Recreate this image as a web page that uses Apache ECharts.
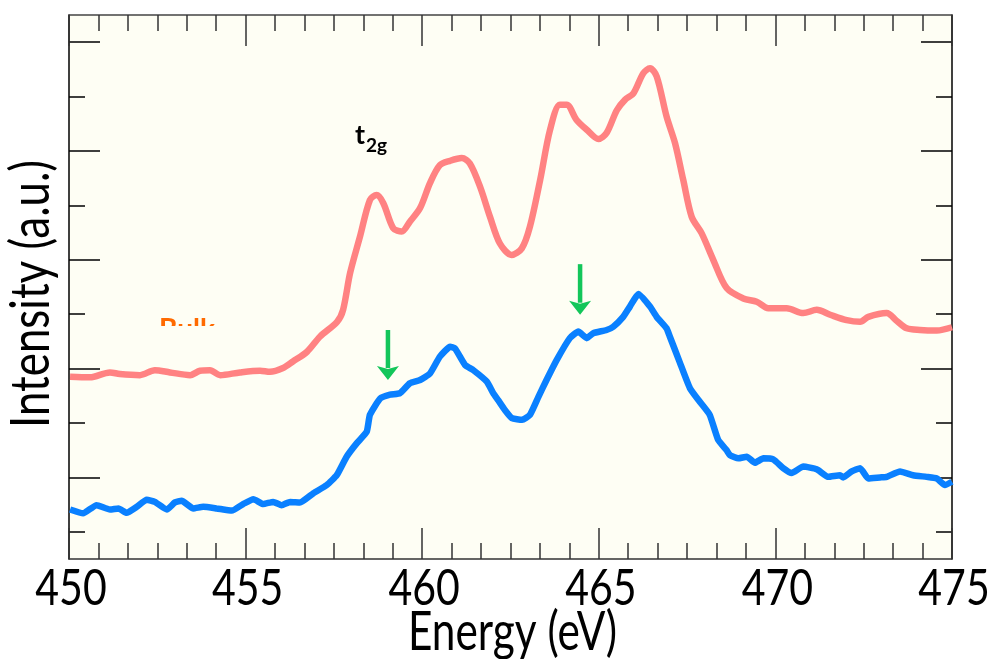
<!DOCTYPE html>
<html>
<head>
<meta charset="utf-8">
<script src="https://cdn.jsdelivr.net/npm/echarts@6/dist/echarts.min.js"></script>
<style>
  html, body { margin: 0; padding: 0; background: #ffffff; }
  #chart { width: 992px; height: 659px; }
</style>
</head>
<body>
<div id="chart"></div>
<script>
// Energy axis (eV) and tick labels
const energyMin = 450;
const energyMax = 475;
const energyTicks = [450, 455, 460, 465, 470, 475];

// Upper spectrum (salmon)
const upperEnergy = [450.03, 450.59, 451.16, 451.44, 452.01, 452.43, 452.86, 453.43, 453.71, 453.99,
  454.28, 454.84, 455.41, 455.69, 456.06, 456.34, 456.74, 457.11, 457.59, 457.76,
  457.96, 458.24, 458.52, 458.71, 458.90, 459.18, 459.42, 459.65, 459.94, 460.22,
  460.50, 460.79, 461.12, 461.35, 461.64, 461.92, 462.20, 462.53, 462.82, 463.05,
  463.34, 463.62, 463.90, 464.09, 464.37, 464.66, 464.99, 465.22, 465.51, 465.74,
  465.98, 466.26, 466.45, 466.64, 466.92, 467.16, 467.39, 467.63, 467.91, 468.24,
  468.62, 469.09, 469.47, 469.80, 470.32, 470.79, 471.17, 471.55, 472.02, 472.40,
  472.63, 473.15, 473.43, 473.72, 474.09, 474.57, 475.00];
const upperIntensity = [3.35, 3.34, 3.43, 3.40, 3.38, 3.47, 3.43, 3.38, 3.46, 3.47,
  3.38, 3.43, 3.46, 3.44, 3.51, 3.63, 3.81, 4.09, 4.36, 4.58,
  5.26, 5.93, 6.60, 6.69, 6.54, 6.08, 6.02, 6.20, 6.45, 6.91,
  7.24, 7.32, 7.37, 7.27, 6.84, 6.29, 5.80, 5.59, 5.71, 6.11,
  6.97, 7.89, 8.35, 8.35, 8.07, 7.89, 7.72, 7.83, 8.25, 8.44,
  8.56, 8.93, 9.02, 8.87, 8.13, 7.64, 6.97, 6.29, 5.99, 5.50,
  4.98, 4.79, 4.73, 4.61, 4.61, 4.52, 4.58, 4.49, 4.39, 4.36,
  4.45, 4.52, 4.38, 4.24, 4.21, 4.20, 4.26];

// Lower spectrum (blue)
const lowerEnergy = [450.03, 450.40, 450.78, 451.16, 451.40, 451.63, 451.92, 452.20, 452.43, 452.77,
  453.00, 453.19, 453.52, 453.80, 454.18, 454.61, 454.93, 455.22, 455.50, 455.78,
  456.02, 456.26, 456.54, 456.92, 457.30, 457.58, 457.86, 458.15, 458.43, 458.52,
  458.81, 459.09, 459.37, 459.65, 459.94, 460.22, 460.50, 460.79, 460.93, 461.21,
  461.45, 461.83, 462.01, 462.15, 462.34, 462.54, 462.83, 463.05, 463.29, 463.52,
  463.81, 464.18, 464.42, 464.66, 464.84, 465.22, 465.41, 465.69, 465.88, 466.12,
  466.45, 466.64, 466.92, 467.01, 467.29, 467.58, 467.86, 468.14, 468.38, 468.62,
  468.71, 468.95, 469.19, 469.42, 469.66, 469.94, 470.22, 470.46, 470.79, 471.17,
  471.50, 471.83, 471.92, 472.16, 472.40, 472.63, 472.96, 473.15, 473.53, 473.90,
  474.28, 474.57, 474.80, 475.00];
const lowerIntensity = [0.91, 0.84, 0.99, 0.91, 0.93, 0.85, 0.96, 1.09, 1.05, 0.91,
  1.04, 1.07, 0.93, 0.96, 0.93, 0.89, 1.01, 1.10, 1.01, 1.05,
  0.99, 1.05, 1.04, 1.21, 1.36, 1.54, 1.88, 2.13, 2.34, 2.65,
  2.95, 3.02, 3.05, 3.23, 3.29, 3.41, 3.72, 3.90, 3.87, 3.57,
  3.47, 3.26, 3.05, 2.92, 2.74, 2.59, 2.56, 2.65, 2.98, 3.29,
  3.66, 4.06, 4.18, 4.06, 4.15, 4.21, 4.27, 4.45, 4.64, 4.87,
  4.64, 4.45, 4.24, 4.09, 3.62, 3.14, 2.89, 2.65, 2.19, 2.00,
  1.91, 1.85, 1.88, 1.77, 1.85, 1.83, 1.67, 1.58, 1.70, 1.65,
  1.51, 1.54, 1.50, 1.61, 1.67, 1.48, 1.50, 1.51, 1.61, 1.54,
  1.51, 1.48, 1.36, 1.42];

// Intensity axis: arbitrary units, ticks without labels
const intensityMin = 0;
const intensityMax = 10;
const intensityMajorTicks = [1.5, 3.5, 5.5, 7.5, 9.5];
const intensityMinorTicks = [0.5, 2.5, 4.5, 6.5, 8.5];

// Feature arrows on the lower spectrum: [energy, tail intensity, tip intensity]
const arrowEnergy = [459.03, 464.47];
const arrowTail = [4.21, 5.42];
const arrowTip = [3.29, 4.49];

const FONT = "Lato, 'Liberation Sans', sans-serif";
const bgColor = '#FEFEF4';
const NARROW = 0.82;   // horizontal squeeze applied to the large axis texts

const zip = (xs, ys) => xs.map((x, i) => [x, ys[i]]);

const measureCtx = document.createElement('canvas').getContext('2d');
function textWidth(text, size, weight) {
  measureCtx.font = (weight || 'normal') + ' ' + size + 'px ' + FONT;
  return measureCtx.measureText(text).width;
}

const chart = echarts.init(document.getElementById('chart'), null, { renderer: 'canvas' });

const xCommon = {
  type: 'value',
  min: energyMin,
  max: energyMax,
  interval: 5,
  splitLine: { show: false },
  minorSplitLine: { show: false },
  axisLabel: { show: false },
  axisTick: { show: true, inside: true, length: 31, lineStyle: { color: '#333', width: 1.5 } },
  minorTick: { show: true, splitNumber: 6, length: 16, lineStyle: { color: '#333', width: 1.5 } }
};

const yTickAxis = (position, values, length, lineShow) => ({
  type: 'value',
  position: position,
  min: intensityMin,
  max: intensityMax,
  splitLine: { show: false },
  axisLabel: { show: false },
  axisLine: { show: lineShow, onZero: false, lineStyle: { color: '#000', width: 1.5 } },
  axisTick: { show: true, inside: true, length: length, customValues: values,
    lineStyle: { color: '#000', width: 1.5 } }
});

chart.setOption({
  animation: false,
  backgroundColor: '#ffffff',
  grid: {
    left: 69, right: 40, top: 15, bottom: 100,
    outerBoundsMode: 'none',
    containLabel: false,
    show: true, backgroundColor: bgColor, borderWidth: 0
  },
  xAxis: [
    Object.assign({}, xCommon, {
      position: 'bottom',
      axisLine: { show: true, onZero: false, lineStyle: { color: '#333', width: 1.5 } }
    }),
    Object.assign({}, xCommon, {
      position: 'top',
      axisLine: { show: true, onZero: false, lineStyle: { color: '#444', width: 1.5 } }
    })
  ],
  yAxis: [
    yTickAxis('left', intensityMajorTicks, 31, true),
    yTickAxis('left', intensityMinorTicks, 16, false),
    yTickAxis('right', intensityMajorTicks, 31, true),
    yTickAxis('right', intensityMinorTicks, 16, false)
  ],
  series: [
    {
      name: 'upper',
      type: 'line',
      xAxisIndex: 0, yAxisIndex: 0,
      data: zip(upperEnergy, upperIntensity),
      showSymbol: false,
      smooth: 0.3,
      clip: true,
      lineStyle: { color: '#FF8282', width: 6.5 },
      z: 3
    },
    {
      name: 'lower',
      type: 'line',
      xAxisIndex: 0, yAxisIndex: 0,
      data: zip(lowerEnergy, lowerIntensity),
      showSymbol: false,
      smooth: 0.15,
      clip: true,
      lineStyle: { color: '#0A80FF', width: 6.5 },
      z: 3
    }
  ]
});

// Axis texts, arrows and annotations placed from data coordinates
function buildGraphics() {
  const els = [];
  const toPx = (x, y) => chart.convertToPixel({ xAxisIndex: 0, yAxisIndex: 0 }, [x, y]);
  const plotBottom = toPx(energyMin, intensityMin)[1];
  const plotTop = toPx(energyMin, intensityMax)[1];
  const plotLeft = toPx(energyMin, intensityMin)[0];
  const plotRight = toPx(energyMax, intensityMin)[0];

  // energy tick labels
  energyTicks.forEach((t) => {
    const p = toPx(t, intensityMin);
    els.push({
      type: 'text', z: 60, x: p[0] + 2, y: plotBottom + 30, scaleX: NARROW,
      style: { x: 0, y: 0, text: String(t), fill: '#000', fontSize: 50, fontFamily: FONT,
        align: 'center', verticalAlign: 'middle' }
    });
  });

  // axis titles
  const xTitle = 'Energy (eV)';
  els.push({
    type: 'text', z: 60, x: (plotLeft + plotRight) / 2 + 2, y: plotBottom + 74,
    scaleX: 209 / textWidth(xTitle, 54),
    style: { x: 0, y: 0, text: xTitle, fill: '#000', fontSize: 54, fontFamily: FONT,
      align: 'center', verticalAlign: 'middle' }
  });
  const yTitle = 'Intensity (a.u.)';
  els.push({
    type: 'text', z: 60, x: 32, y: (plotTop + plotBottom) / 2 + 7, rotation: Math.PI / 2,
    scaleX: 268 / textWidth(yTitle, 54),
    style: { x: 0, y: 0, text: yTitle, fill: '#000', fontSize: 54, fontFamily: FONT,
      align: 'center', verticalAlign: 'middle' }
  });

  // green arrows
  const green = '#13C65A';
  arrowEnergy.forEach((e, i) => {
    const tail = toPx(e, arrowTail[i]);
    const tip = toPx(e, arrowTip[i]);
    const headH = 14, headW = 11;
    els.push({
      type: 'line', z: 50,
      shape: { x1: tail[0], y1: tail[1], x2: tip[0], y2: tip[1] - headH + 2 },
      style: { stroke: green, lineWidth: 4.5 }
    });
    els.push({
      type: 'polygon', z: 50,
      shape: { points: [[tip[0], tip[1]], [tip[0] - headW, tip[1] - headH],
        [tip[0], tip[1] - headH + 3], [tip[0] + headW, tip[1] - headH]] },
      style: { fill: green }
    });
  });

  // t2g label
  els.push({
    type: 'text', z: 50,
    style: { x: 355, y: 122, text: 't', fill: '#000', fontSize: 27, fontWeight: 'bold',
      fontFamily: FONT, verticalAlign: 'top' }
  });
  els.push({
    type: 'text', z: 50,
    style: { x: 366, y: 136, text: '2g', fill: '#000', fontSize: 19, fontWeight: 'bold',
      fontFamily: FONT, verticalAlign: 'top' }
  });

  // orange label, lower part hidden behind a panel in the plot colour
  els.push({
    type: 'text', z: 40,
    style: { x: 159, y: 316, text: 'Bulk', fill: '#FF6A00', fontSize: 28, fontWeight: 'bold',
      fontFamily: FONT, verticalAlign: 'top' }
  });
  els.push({
    type: 'rect', z: 45,
    shape: { x: 150, y: 326, width: 90, height: 26 },
    style: { fill: bgColor }
  });
  return els;
}

chart.setOption({ graphic: { elements: buildGraphics() } });
</script>
</body>
</html>
